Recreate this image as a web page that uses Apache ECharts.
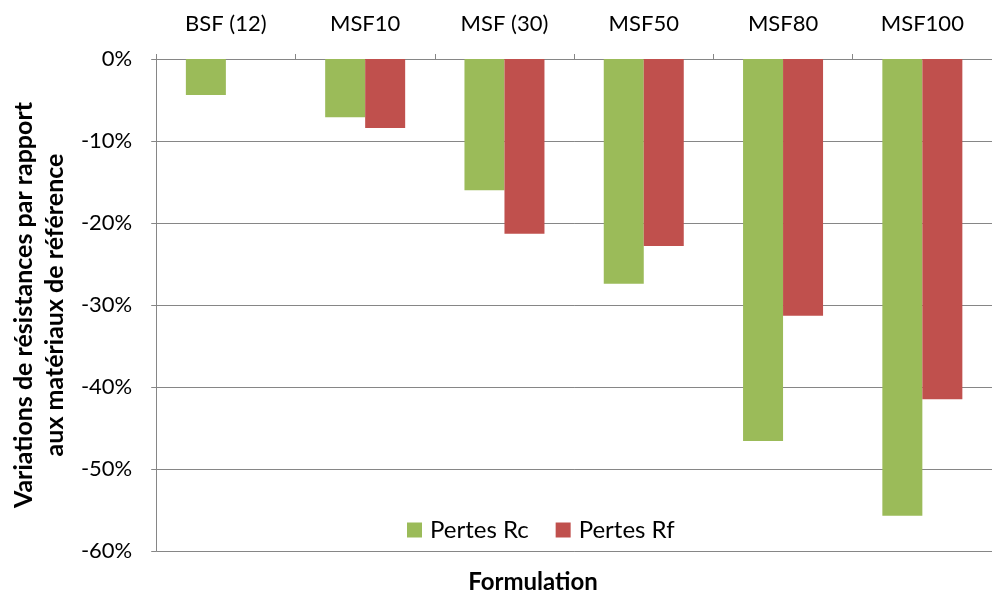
<!DOCTYPE html>
<html><head><meta charset="utf-8">
<script src="https://cdn.jsdelivr.net/npm/echarts@6/dist/echarts.min.js"></script>
<style>html,body{margin:0;padding:0;background:#fff}#c{width:992px;height:594px}</style>
</head><body><div id="c"></div>
<script>
const categories = ['BSF (12)', 'MSF10', 'MSF (30)', 'MSF50', 'MSF80', 'MSF100'];
const pertesRc = [-4.4, -7.1, -16.0, -27.4, -46.6, -55.7];
const pertesRf = [null, -8.4, -21.3, -22.8, -31.3, -41.5];
const yTicks = [0, -10, -20, -30, -40, -50, -60];
const FONT = 'Lato';
const chart = echarts.init(document.getElementById('c'));
chart.setOption({
  animation: false,
  textStyle: {fontFamily: FONT},
  grid: {left: 155, width: 845, top: 59, bottom: 43},
  title: {text: 'Formulation', left: 533, top: 570, textAlign: 'center', padding: 0,
    textStyle: {fontFamily: FONT, fontSize: 24, fontWeight: 'bold', color: '#000'}},
  legend: {left: 407, top: 518, itemWidth: 15, itemHeight: 15, itemGap: 27, padding: 0,
    icon: 'rect', textStyle: {fontFamily: FONT, fontSize: 24, color: '#000', padding: [0, 0, 0, 3]},
    data: ['Pertes Rc', 'Pertes Rf']},
  xAxis: {type: 'category', position: 'top', data: categories,
    axisLine: {lineStyle: {color: '#868686', width: 1}},
    axisTick: {show: true, length: 5, lineStyle: {color: '#868686'}},
    axisLabel: {fontFamily: FONT, fontSize: 22, color: '#000', margin: 24}},
  yAxis: {type: 'value', min: -60, max: 0, interval: 10,
    name: 'Variations de résistances par rapport\naux matériaux de référence',
    nameLocation: 'middle', nameRotate: 90, nameGap: 84,
    nameTextStyle: {fontFamily: FONT, fontSize: 25, fontWeight: 'bold', color: '#000', lineHeight: 31},
    axisLine: {show: true, lineStyle: {color: '#868686'}},
    axisTick: {show: true, length: 5, lineStyle: {color: '#868686'}},
    splitLine: {lineStyle: {color: '#868686', width: 1}},
    axisLabel: {fontFamily: FONT, fontSize: 22, color: '#000', margin: 24,
      formatter: v => yTicks.includes(v) ? v + '%' : ''}},
  series: [
    {name: 'Pertes Rc', type: 'bar', data: pertesRc, barWidth: 40, barGap: '0%',
      itemStyle: {color: '#9BBB59'}},
    {name: 'Pertes Rf', type: 'bar', data: pertesRf, barWidth: 40, barGap: '0%',
      itemStyle: {color: '#C0504D'}}
  ]
});
</script></body></html>
